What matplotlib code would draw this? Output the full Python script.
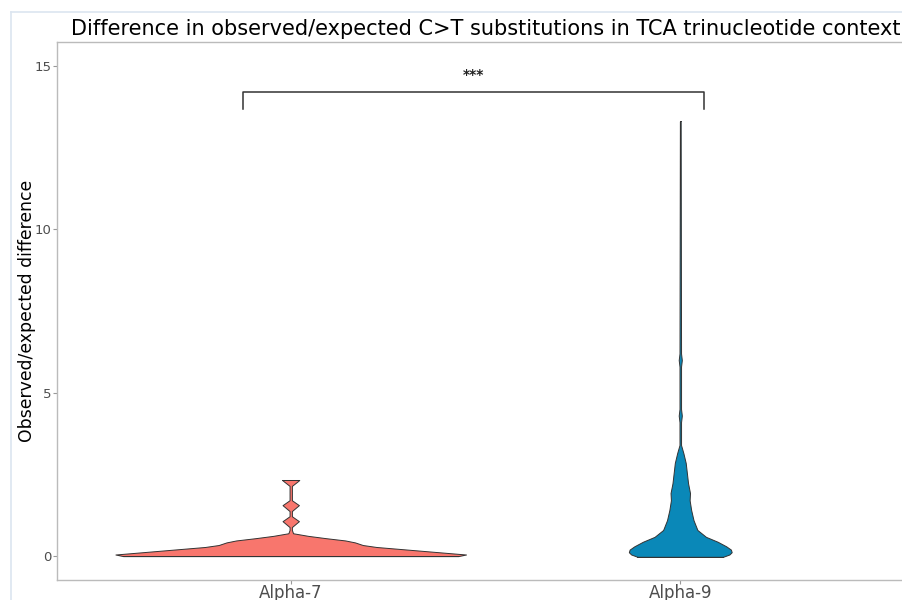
import matplotlib
matplotlib.use("Agg")
import matplotlib.pyplot as plt
from matplotlib.lines import Line2D
import numpy as np

# data
groups = ["Alpha-7", "Alpha-9"]
colors = ["#F8766D", "#0A88B8"]

# violin outlines: y value and half width (in category units)
a7_y = [0.00, 0.05, 0.12, 0.20, 0.28, 0.34, 0.42, 0.48, 0.55, 0.62, 0.70, 0.80,
        0.89, 1.07, 1.22, 1.38, 1.56, 1.71, 2.15, 2.28, 2.33]
a7_w = [0.43, 0.45, 0.38, 0.30, 0.22, 0.185, 0.165, 0.14, 0.09, 0.045, 0.006, 0.003,
        0.003, 0.021, 0.003, 0.003, 0.021, 0.003, 0.003, 0.017, 0.022]

a9_y = [-0.02, 0.05, 0.12, 0.20, 0.30, 0.44, 0.59, 0.80, 1.10, 1.41, 1.71, 1.93,
        2.23, 2.54, 2.85, 3.15, 3.40, 4.10, 4.30, 4.50, 5.80, 6.00, 6.20, 13.3]
a9_w = [0.11, 0.126, 0.132, 0.13, 0.118, 0.096, 0.066, 0.044, 0.034, 0.028, 0.024, 0.025,
        0.020, 0.017, 0.014, 0.008, 0.002, 0.002, 0.004, 0.002, 0.002, 0.004, 0.002, 0.001]

profiles = [(a7_y, a7_w), (a9_y, a9_w)]

bracket_x = [0.877, 2.062]
bracket_y = [13.68, 14.2]
sig_label = "***"

title = "Difference in observed/expected C>T substitutions in TCA trinucleotide context"
ylabel = "Observed/expected difference"
yticks = [0, 5, 10, 15]

fig = plt.figure(figsize=(9.03, 6), dpi=100)
ax = fig.add_axes([57 / 903, 20 / 600, 857 / 903, 538 / 600])

for i, (ys, ws) in enumerate(profiles):
    pos = i + 1
    ys = np.array(ys)
    ws = np.array(ws)
    ax.fill_betweenx(ys, pos - ws, pos + ws, facecolor=colors[i],
                     edgecolor="#333333", linewidth=0.7, zorder=3)
    ax.plot([pos - ws[-1], pos + ws[-1]], [ys[-1], ys[-1]], color="#333333", lw=0.7, zorder=4)
    ax.plot([pos - ws[0], pos + ws[0]], [ys[0], ys[0]], color="#333333", lw=0.7, zorder=4)

# significance bracket
ax.plot([bracket_x[0], bracket_x[0], bracket_x[1], bracket_x[1]],
        [bracket_y[0], bracket_y[1], bracket_y[1], bracket_y[0]],
        color="#333333", lw=1.1, zorder=4)
ax.text(sum(bracket_x) / 2, bracket_y[1] + 0.3, sig_label, ha="center", va="bottom",
        fontsize=10, fontweight="bold", color="#222222")

ax.set_xlim(0.4, 2.6)
ax.set_ylim(-0.73, 15.73)
ax.set_xticks([1, 2])
ax.set_xticklabels(groups, fontsize=12, color="#4D4D4D")
ax.set_yticks(yticks)
ax.set_yticklabels([str(t) for t in yticks], fontsize=9.5, color="#4D4D4D")
ax.tick_params(axis="both", color="#999999", length=3, width=0.8)
ax.tick_params(axis="x", pad=0)
ax.tick_params(axis="y", pad=1)
for s in ax.spines.values():
    s.set_color("#BBBBBB")
    s.set_linewidth(1.0)

ax.set_ylabel(ylabel, fontsize=12.4)
ax.yaxis.set_label_coords(-0.025, 0.5)
ax.set_title(title, fontsize=15, pad=5)

# light frame of the screenshot
fig.add_artist(Line2D([11.5 / 903, 11.5 / 903], [0, 1 - 12 / 600], color="#DCE5F0", lw=1.2))
fig.add_artist(Line2D([11.5 / 903, 1], [1 - 12 / 600, 1 - 12 / 600], color="#DCE5F0", lw=1.2))

fig.savefig("out.png", dpi=100)
